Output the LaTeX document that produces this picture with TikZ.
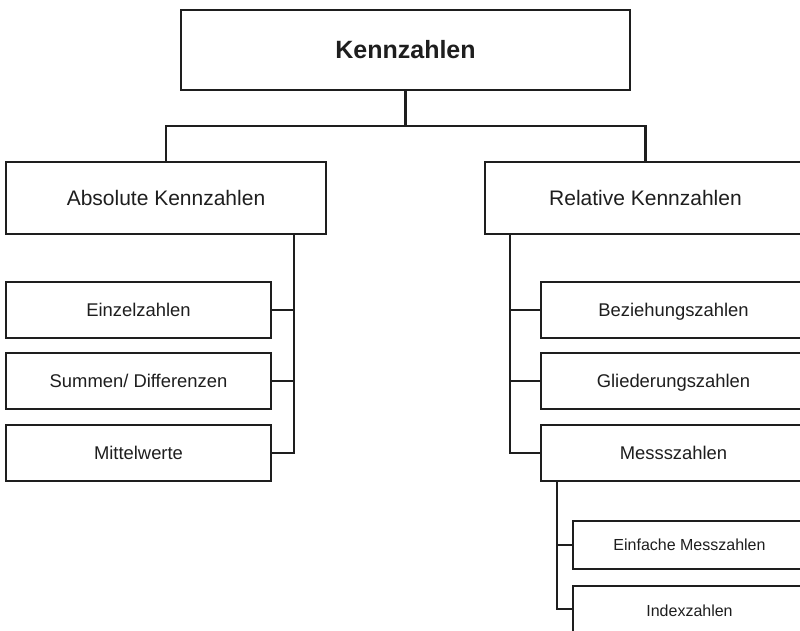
\documentclass[tikz,border=0pt]{standalone}
\usepackage{fontspec}
\setmainfont{Liberation Sans}
\definecolor{ink}{RGB}{30,30,30}
\tikzset{
  x=1pt, y=-1pt,
  box/.style={draw=ink, line width=2pt, fill=white, text=ink, inner sep=0pt, anchor=center, text depth=0pt},
  topbox/.style={box, minimum width=449pt, minimum height=80pt, text height=17.9pt, font=\fontsize{25}{30}\selectfont\bfseries},
  lvbox/.style={box, minimum width=320pt, minimum height=72pt, text height=15pt, font=\fontsize{21}{25}\selectfont},
  subbox/.style={box, minimum width=265pt, minimum height=56pt, text height=13.2pt, font=\fontsize{18.4}{22}\selectfont},
  subsubbox/.style={box, minimum width=233pt, minimum height=48pt, text height=11.5pt, font=\fontsize{16}{19}\selectfont},
  conn/.style={draw=ink, line width=2.3pt}
}
\begin{document}
\begin{tikzpicture}
\useasboundingbox (0,0) rectangle (800,630);
\clip (0,0) rectangle (800,630);
% nodes
\node[topbox] (top) at (405.5,50) {Kennzahlen};
\node[lvbox] (abs) at (166,198) {Absolute Kennzahlen};
\node[lvbox, minimum width=321pt] (rel) at (645.5,198) {Relative Kennzahlen};
\node[subbox] (a1) at (138.5,310) {Einzelzahlen};
\node[subbox] (a2) at (138.5,381) {Summen/ Differenzen};
\node[subbox] (a3) at (138.5,453) {Mittelwerte};
\node[subbox] (r1) at (673.5,310) {Beziehungszahlen};
\node[subbox] (r2) at (673.5,381) {Gliederungszahlen};
\node[subbox] (r3) at (673.5,453) {Messszahlen};
\node[subsubbox] (m1) at (689.5,545) {Einfache Messzahlen};
\node[subsubbox, minimum height=49pt] (m2) at (689.5,610.5) {Indexzahlen};
% junction coordinates
\coordinate (j) at (405.5,126);
\coordinate (lv) at (294,234);
\coordinate (rv) at (510,234);
\coordinate (mv) at (557,481);
% connectors
\draw[conn] (top.south) -- (j);
\draw[conn] (abs.north) -- (abs.north |- j) -- (rel.north |- j) -- (rel.north);
\draw[conn] (lv) |- (a3.east);
\draw[conn] (a1.east) -- (a1.east -| lv);
\draw[conn] (a2.east) -- (a2.east -| lv);
\draw[conn] (rv) |- (r3.west);
\draw[conn] (r1.west) -- (r1.west -| rv);
\draw[conn] (r2.west) -- (r2.west -| rv);
\draw[conn] (mv) |- ([yshift=1.5pt]m2.west);
\draw[conn] (m1.west) -- (m1.west -| mv);
\end{tikzpicture}
\end{document}
